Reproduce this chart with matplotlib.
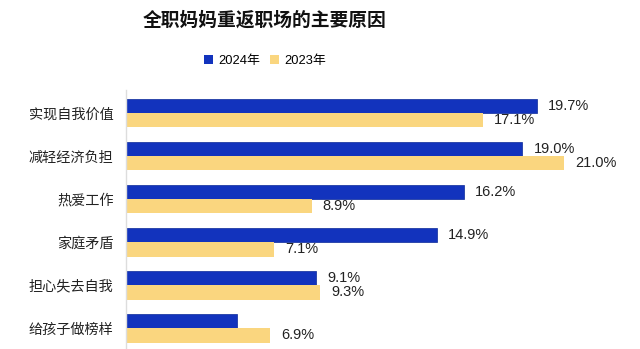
import matplotlib.pyplot as plt
from matplotlib.patches import Patch

plt.rcParams['font.family'] = ['Liberation Sans', 'Noto Sans CJK SC', 'DejaVu Sans']

categories = ['实现自我价值', '减轻经济负担', '热爱工作', '家庭矛盾', '担心失去自我', '给孩子做榜样']
values_2024 = [19.7, 19.0, 16.2, 14.9, 9.1, 5.3]
values_2023 = [17.1, 21.0, 8.9, 7.1, 9.3, 6.9]
labels_2024 = ['19.7%', '19.0%', '16.2%', '14.9%', '9.1%', '']
labels_2023 = ['17.1%', '21.0%', '8.9%', '7.1%', '9.3%', '6.9%']

blue = '#1233bd'
yellow = '#fad67f'

fig = plt.figure(figsize=(6.4, 3.49), dpi=100)
ax = fig.add_axes([126 / 640, 0, 514 / 640, 259 / 349])

h = 0.33
ys = list(range(len(categories)))
y_blue = [y - h / 2 for y in ys]
y_yel = [y + h / 2 for y in ys]
ax.barh(y_blue, values_2024, height=h, color=blue, edgecolor='#0a2899', linewidth=0.5)
ax.barh(y_yel, values_2023, height=h, color=yellow, linewidth=0)

for y, v, t in zip(y_blue, values_2024, labels_2024):
    ax.annotate(t, (v, y), xytext=(8, 0), textcoords='offset points',
                va='center', ha='left', fontsize=10.5, color='#222222')
for y, v, t in zip(y_yel, values_2023, labels_2023):
    ax.annotate(t, (v, y), xytext=(8, 0), textcoords='offset points',
                va='center', ha='left', fontsize=10.5, color='#222222')

ax.set_xlim(0, 24.64)
ax.set_ylim(5.48, -0.54)
ax.set_yticks(ys)
ax.set_yticklabels(categories, fontsize=10.2)
ax.tick_params(axis='y', length=0, pad=9, colors='#222222')
ax.set_xticks([])
for s in ['top', 'right', 'bottom']:
    ax.spines[s].set_visible(False)
ax.spines['left'].set_color('#dddddd')
ax.spines['left'].set_linewidth(1.0)

fig.text(265 / 640, 1 - 20 / 349, '全职妈妈重返职场的主要原因', ha='center', va='center',
         fontsize=13.5, fontweight='bold', color='#111111')

handles = [Patch(facecolor=blue, label='2024年'), Patch(facecolor=yellow, label='2023年')]
fig.legend(handles=handles, loc='center', bbox_to_anchor=(265 / 640, 1 - 61 / 349), ncol=2,
           frameon=False, fontsize=9.3, handlelength=0.7, handleheight=0.7,
           handletextpad=0.4, columnspacing=0.8)

fig.savefig('out.png', dpi=100, facecolor='white')
